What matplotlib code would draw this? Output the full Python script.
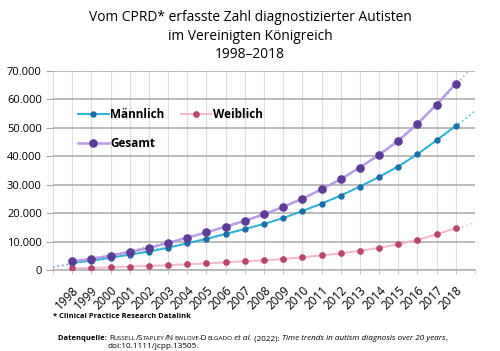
import numpy as np
import matplotlib
matplotlib.use("Agg")
import matplotlib.pyplot as plt

plt.rcParams["font.family"] = ["Open Sans", "DejaVu Sans"]

# =====================================================
# DATA
# =====================================================
years = list(range(1998, 2019))

maennlich = [2500, 3300, 4300, 5400, 6450, 7850, 9400, 11000, 12700, 14450,
             16200, 18300, 20750, 23350, 26200, 29350, 32750, 36400, 40700,
             45650, 50800]
weiblich = [600, 700, 940, 1170, 1400, 1650, 2000, 2350, 2700, 3150,
            3400, 3870, 4460, 5160, 5870, 6690, 7750, 9050, 10550,
            12550, 14800]
gesamt = [3050, 3900, 5050, 6350, 7750, 9500, 11400, 13250, 15250, 17350,
          19600, 22200, 25100, 28400, 31950, 36050, 40500, 45400, 51400,
          58200, 65600]

y_ticks = [0, 10000, 20000, 30000, 40000, 50000, 60000, 70000]

title = ("Vom CPRD* erfasste Zahl diagnostizierter Autisten\n"
         "im Vereinigten Königreich\n1998–2018")

series = [
    ("Männlich", maennlich, "#2bb3d3", "#1b6ea8", 1.4, 3.6),
    ("Weiblich", weiblich, "#f4b8cd", "#b8446f", 1.4, 3.8),
    ("Gesamt", gesamt, "#b89de6", "#5d3c98", 1.8, 5.2),
]

# =====================================================
# PLOT
# =====================================================
fig = plt.figure(figsize=(5.0, 3.51), dpi=100)
ax = fig.add_axes([53 / 500, 81 / 351, 422 / 500, 199 / 351])

# polynomial trendlines (dotted), like the spreadsheet trendline
x_trend = np.linspace(1997, 2019, 200)
for name, vals, lc, mc, lw, ms in series:
    coef = np.polyfit(years, vals, 3)
    ax.plot(x_trend, np.polyval(coef, x_trend), linestyle=(0, (1, 2)),
            color=lc, linewidth=1.1, zorder=2)

handles = {}
for name, vals, lc, mc, lw, ms in series:
    h, = ax.plot(years, vals, color=lc, linewidth=lw, marker="o",
                 markersize=ms, markerfacecolor=mc, markeredgecolor=mc,
                 label=name, zorder=3)
    handles[name] = h

ax.set_xlim(1997, 2019)
ax.set_ylim(0, 70000)
ax.set_yticks(y_ticks)
ax.set_yticklabels([f"{v:,}".replace(",", ".") for v in y_ticks], fontsize=8)

ax.set_xticks(range(1997, 2020), minor=True)
ax.set_xticks(years)
ax.set_xticklabels([str(y) for y in years], rotation=45, ha="right",
                   rotation_mode="anchor", fontsize=8.5)

ax.grid(axis="x", which="both", color="#dedede", linewidth=0.8)
ax.grid(axis="y", color="#a8a8a8", linewidth=1.1)
ax.set_axisbelow(True)

for s in ["top", "right", "left"]:
    ax.spines[s].set_visible(False)
ax.spines["bottom"].set_color("#b0b0b0")
ax.spines["bottom"].set_linewidth(1.1)
ax.tick_params(axis="y", length=5, color="#a8a8a8", pad=3)
ax.tick_params(axis="x", which="both", length=3, color="#c8c8c8", pad=7)

# column-wise filling: Männlich/Gesamt in col 1, Weiblich in col 2
leg = ax.legend(handles=[handles["Männlich"], handles["Gesamt"],
                         handles["Weiblich"]], ncol=2,
                loc="upper left", bbox_to_anchor=(0.045, 0.845),
                frameon=False, handlelength=2.6, handletextpad=0.15,
                columnspacing=1.35, labelspacing=1.35, borderpad=0,
                prop={"weight": "bold", "size": 8.5})

fig.text(0.5, 1 - 10 / 351, title, ha="center", va="top", fontsize=9.9,
         linespacing=1.32)

fig.text(53 / 500, 1 - 316 / 351, "* Clinical Practice Research Datalink",
         fontsize=5.4, weight="bold", va="center")

# citation line with small caps names, placed piece by piece
renderer = fig.canvas.get_renderer()
base_y = 1 - 340 / 351
pieces = [
    ("Datenquelle: ", 5.4, "normal", "bold"),
    ("R", 5.9, "normal", "normal"), ("USSELL", 4.6, "normal", "normal"),
    ("/S", 5.9, "normal", "normal"), ("TAPLEY", 4.6, "normal", "normal"),
    ("/N", 5.9, "normal", "normal"), ("EWLOVE", 4.6, "normal", "normal"),
    ("-D", 5.9, "normal", "normal"), ("ELGADO", 4.6, "normal", "normal"),
    (" et al.", 5.9, "italic", "normal"), (" (2022): ", 5.9, "normal", "normal"),
    ("Time trends in autism diagnosis over 20 years", 5.9, "italic", "normal"),
    (",", 5.9, "normal", "normal"),
]
x_px = 58
for txt, size, style, weight in pieces:
    t = fig.text(x_px / 500, base_y, txt, fontsize=size, style=style,
                 weight=weight, va="baseline", ha="left")
    bb = t.get_window_extent(renderer)
    x_px = bb.x1
fig.text(108 / 500, 1 - 348 / 351, "doi:10.1111/jcpp.13505.", fontsize=5.9,
         va="baseline")

plt.savefig("out.png", dpi=100)
